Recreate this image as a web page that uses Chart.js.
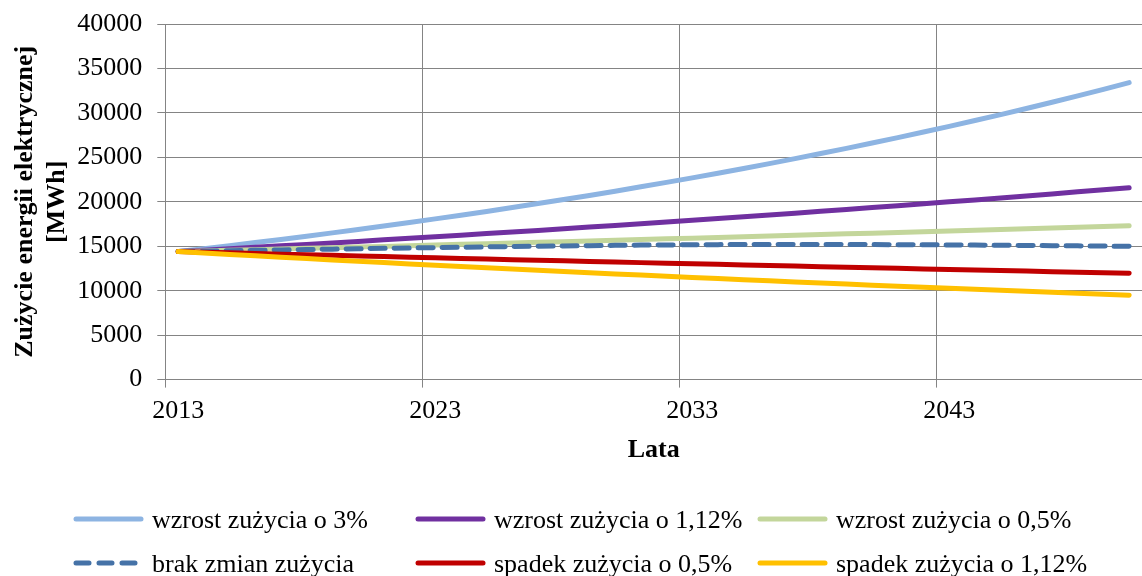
<!DOCTYPE html>
<html><head><meta charset="utf-8">
<script src="https://cdn.jsdelivr.net/npm/chart.js@4.4.1/dist/chart.umd.min.js"></script>
<style>
html,body{margin:0;padding:0;background:#fff}
#wrap{width:1142px;height:576px;position:relative}
#legend span{position:absolute;font-family:'Liberation Serif',serif;font-size:26px;line-height:30px;color:#000;white-space:nowrap}
</style>
</head><body><div id="wrap"><canvas id="c" width="1142" height="576"></canvas><div id="legend"></div></div>
<script>
const years = ['2013','2014','2015','2016','2017','2018','2019','2020','2021','2022',
  '2023','2024','2025','2026','2027','2028','2029','2030','2031','2032',
  '2033','2034','2035','2036','2037','2038','2039','2040','2041','2042',
  '2043','2044','2045','2046','2047','2048','2049','2050'];
const shownYears = ['2013','2023','2033','2043'];
const seriesNames = ['wzrost zu\u017Cycia o 3%','wzrost zu\u017Cycia o 1,12%','wzrost zu\u017Cycia o 0,5%',
  'brak zmian zu\u017Cycia','spadek zu\u017Cycia o 0,5%','spadek zu\u017Cycia o 1,12%'];
const wzrost3 = [14400,14731,15070,15417,15771,16134,16505,16885,17273,17670,
  18077,18493,18918,19353,19798,20253,20719,21196,21683,22182,
  22692,23214,23748,24294,24853,25425,26009,26608,27220,27846,
  28486,29141,29812,30497,31199,31916,32650,33401];
const wzrost112 = [14400,14558,14719,14881,15045,15210,15378,15547,15718,15891,
  16066,16243,16421,16602,16785,16969,17156,17345,17535,17728,
  17923,18120,18319,18521,18724,18931,19138,19349,19562,19777,
  19995,20215,20437,20662,20889,21119,21351,21586];
const wzrost05 = [14400,14472,14544,14617,14690,14763,14837,14911,14986,15061,
  15136,15212,15288,15364,15441,15518,15596,15674,15752,15831,
  15910,15990,16070,16150,16231,16312,16393,16475,16558,16641,
  16724,16808,16892,16976,17061,17146,17232,17318];
const brakZmian = [14400,14446,14492,14538,14583,14628,14673,14718,14762,14805,
  14848,14890,14930,14968,15004,15038,15070,15100,15128,15150,
  15168,15182,15192,15198,15200,15198,15193,15185,15175,15163,
  15148,15131,15112,15091,15068,15044,15018,14990];
const spadek05 = [14400,14328,14256,14185,14114,14044,13974,13904,13834,13765,
  13696,13628,13560,13492,13424,13357,13290,13224,13158,13092,
  13027,12962,12897,12832,12768,12704,12640,12577,12514,12451,
  12389,12327,12265,12204,12143,12082,12022,11962];
const spadek112 = [14400,14239,14079,13922,13766,13612,13459,13309,13160,13012,
  12866,12722,12580,12439,12300,12162,12026,11891,11758,11626,
  11496,11367,11240,11114,10990,10866,10745,10624,10505,10387,
  10271,10156,10042,9930,9818,9709,9600,9493];
const yTitle = ['Zu\u017Cycie energii elektrycznej','[MWh]'];
const xTitle = 'Lata';

const colors = ['#8DB4E2','#7030A0','#C3D69B','#4572A7','#C00000','#FFC000'];
const values = [wzrost3, wzrost112, wzrost05, brakZmian, spadek05, spadek112];
const FAM = "'Liberation Serif', serif";
const GRID = '#848484';

const datasets = values.map((v, i) => ({
  label: seriesNames[i],
  data: v,
  borderColor: colors[i],
  backgroundColor: colors[i],
  borderWidth: 5,
  borderCapStyle: 'round',
  borderJoinStyle: 'round',
  borderDash: i === 3 ? [15, 9] : [],
  pointRadius: 0,
  pointHoverRadius: 0,
  tension: 0,
  fill: false,
  order: 5 - i
}));

const legendPos = i => ({ x0: 76 + (i % 3) * 342, y: 519 + Math.floor(i / 3) * 44 });

const gridLegend = {
  id: 'gridLegend',
  afterDraw(chart) {
    const ctx = chart.ctx;
    ctx.save();
    ctx.lineWidth = 5;
    ctx.lineCap = 'round';
    chart.data.datasets.forEach((ds, i) => {
      const {x0, y} = legendPos(i);
      ctx.beginPath();
      ctx.strokeStyle = ds.borderColor;
      ctx.setLineDash(i === 3 ? [13, 10] : []);
      ctx.moveTo(x0, y);
      ctx.lineTo(x0 + 65, y);
      ctx.stroke();
    });
    ctx.restore();
  }
};

const legendBox = document.getElementById('legend');
seriesNames.forEach((name, i) => {
  const {x0, y} = legendPos(i);
  const s = document.createElement('span');
  s.textContent = name;
  s.style.left = (x0 + 76) + 'px';
  s.style.top = (y - 14) + 'px';
  legendBox.appendChild(s);
});

new Chart(document.getElementById('c'), {
  type: 'line',
  data: { labels: years, datasets },
  plugins: [gridLegend],
  options: {
    responsive: false,
    animation: false,
    layout: { padding: { left: 10, right: 0, top: 24, bottom: 110 } },
    plugins: { legend: { display: false }, tooltip: { enabled: false } },
    scales: {
      x: {
        type: 'category',
        offset: true,
        grid: {
          offset: true,
          color: ctx => (ctx.index !== undefined && ctx.index % 10 === 0) ? GRID : 'rgba(0,0,0,0)',
          lineWidth: 1,
          tickLength: 8
        },
        border: { color: GRID, width: 1 },
        ticks: {
          autoSkip: false, maxRotation: 0, minRotation: 0,
          color: '#000', font: { family: FAM, size: 26 }, padding: 8,
          callback: function(v, i) { return shownYears.includes(years[i]) ? years[i] : ''; }
        },
        title: { display: true, text: xTitle, color: '#000',
          font: { family: FAM, size: 26, weight: 'bold' }, padding: { top: 0, bottom: 0 } }
      },
      y: {
        min: 0, max: 40000,
        afterFit(scale) { scale.width = 155.3; scale.paddingTop = 0; },
        grid: { color: GRID, lineWidth: 1, tickLength: 8 },
        border: { color: GRID, width: 1 },
        ticks: { stepSize: 5000, color: '#000', font: { family: FAM, size: 26 }, padding: 15,
          callback: v => String(v) },
        title: { display: true, text: yTitle, color: '#000',
          font: { family: FAM, size: 26, weight: 'bold' }, padding: { top: 0, bottom: 0 } }
      }
    }
  }
});
</script></body></html>
